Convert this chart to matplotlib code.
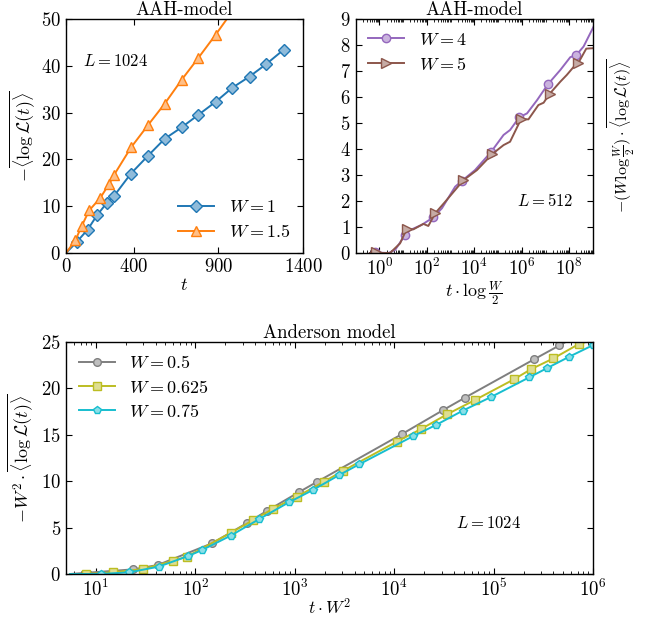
import numpy as np
import matplotlib
matplotlib.use("Agg")
import matplotlib.pyplot as plt
from matplotlib.colors import to_rgb
from matplotlib.ticker import LogLocator, NullFormatter, FixedLocator

plt.rcParams['font.family'] = ['cmr10', 'DejaVu Serif']
plt.rcParams['mathtext.fontset'] = 'cm'
plt.rcParams['axes.formatter.use_mathtext'] = True
plt.rcParams['axes.unicode_minus'] = False
for a in ('x', 'y'):
    plt.rcParams[a + 'tick.direction'] = 'in'
    plt.rcParams[a + 'tick.major.size'] = 4.5
    plt.rcParams[a + 'tick.minor.size'] = 2.2
    plt.rcParams[a + 'tick.labelsize'] = 13.5
plt.rcParams['xtick.top'] = True
plt.rcParams['ytick.right'] = True

# ---------------- data: top-left (AAH, L=1024) ----------------
t_w1 = [0, 63, 128, 183, 241, 285, 383, 485, 583, 683, 781, 884, 982, 1084, 1184, 1286]
y_w1 = [0, 2.35, 5.0, 8.05, 10.7, 12.25, 16.95, 20.8, 24.4, 26.85, 29.5, 32.3, 35.3, 37.7, 40.4, 43.45]
t_w15 = [0, 55, 94, 137, 202, 255, 285, 385, 485, 583, 683, 781, 884, 982]
y_w15 = [0, 2.7, 5.85, 9.1, 11.75, 14.75, 16.75, 22.6, 27.35, 31.9, 37.0, 41.65, 46.65, 51.6]

# ---------------- data: top-right (AAH, L=512) ----------------
x_w4 = [0.40, 0.65, 2.4, 4.6, 8.7, 12, 19.5, 60, 186, 430, 1550, 2950, 1.07e4, 5.0e4,
        1.7e5, 3.2e5, 7.8e5, 1.66e6, 4.4e6, 1.26e7, 4.2e7, 1.1e8, 2.0e8, 4.0e8, 1.12e9]
y_w4 = [0.0, 0.02, 0.0, 0.12, 0.5, 0.69, 0.88, 1.08, 1.37, 1.72, 2.55, 2.77, 3.19, 3.88,
        4.54, 4.73, 5.22, 5.37, 5.88, 6.49, 7.04, 7.53, 7.62, 7.94, 8.75]
mk_w4 = [1, 5, 8, 11, 13, 16, 19, 22]
x_w5 = [0.40, 0.72, 1.3, 2.8, 7.4, 14, 27, 71, 115, 224, 590, 3470, 1.29e4, 5.75e4,
        1.7e5, 3.2e5, 9.3e5, 1.9e6, 5.0e6, 8.3e6, 1.48e7, 4.2e7, 7.9e7, 1.78e8, 2.34e8, 5.2e8, 1.12e9]
y_w5 = [0.0, 0.03, 0.0, 0.0, 0.37, 0.92, 0.91, 1.12, 1.04, 1.53, 1.97, 2.80, 3.19, 3.81,
        4.15, 4.28, 5.15, 5.14, 5.69, 5.78, 6.12, 6.59, 6.85, 7.23, 7.29, 7.86, 7.88]
mk_w5 = [1, 5, 9, 11, 13, 16, 20, 24]

# ---------------- data: bottom (Anderson, L=1024) ----------------
x_a05 = [5.5, 23.8, 41.9, 147, 333, 522, 1110, 1690, 11900, 31200, 51600, 2.55e5, 4.59e5, 7.4e5]
y_a05 = [0.0, 0.5, 0.97, 3.3, 5.5, 6.78, 8.83, 9.94, 15.04, 17.65, 18.98, 23.1, 24.6, 25.8]
x_a0625 = [5.5, 7.9, 15, 30, 59, 82, 229, 378, 600, 1050, 1970, 3080, 10600, 18500, 33800,
           65100, 1.61e5, 2.37e5, 3.99e5, 7.24e5, 1.1e6]
y_a0625 = [0.0, 0.0, 0.18, 0.54, 1.4, 1.86, 4.45, 5.78, 7.0, 8.32, 9.94, 11.12, 14.24, 15.58,
           17.17, 18.73, 20.96, 22.03, 23.2, 24.76, 25.3]
x_a075 = [5.5, 11.2, 21.7, 42.8, 85, 117, 227, 440, 875, 1520, 2810, 4460, 15600, 26500,
          49000, 94400, 2.29e5, 3.43e5, 5.78e5, 9.96e5]
y_a075 = [0.0, 0.0, 0.18, 0.79, 1.94, 2.58, 4.13, 5.92, 7.72, 9.04, 10.66, 11.81, 14.85, 16.05,
          17.58, 19.05, 21.17, 22.14, 23.39, 24.62]


def light(c, a=0.5):
    r = np.array(to_rgb(c))
    return tuple(1 - a + a * r)


fig = plt.figure(figsize=(6.52, 6.18), dpi=100)
W, H = 652.0, 618.0
ax1 = fig.add_axes([66 / W, 1 - 253 / H, 237 / W, 234 / H])
ax2 = fig.add_axes([355.7 / W, 1 - 253 / H, 237.3 / W, 234 / H])
ax3 = fig.add_axes([66 / W, 1 - 574 / H, 527 / W, 232.3 / H])

lw = 1.4
FS_T, FS_L, FS_LEG, FS_TX = 13.5, 13, 13, 12
# ---- top-left ----
c1, c2 = '#1f77b4', '#ff7f0e'
ax1.plot(t_w1, y_w1, '-', color=c1, lw=lw, marker='D', ms=6.5, mfc=light(c1), mec=c1, mew=1,
         markevery=list(range(1, len(t_w1))), label=r'$W=1$')
ax1.plot(t_w15, y_w15, '-', color=c2, lw=lw, marker='^', ms=7, mfc=light(c2), mec=c2, mew=1,
         markevery=list(range(1, len(t_w15))), label=r'$W=1.5$')
ax1.set_xlim(0, 1400)
ax1.set_ylim(0, 50)
ax1.set_xticks([0, 400, 900, 1400])
ax1.set_yticks([0, 10, 20, 30, 40, 50])
ax1.set_title('AAH-model', fontsize=FS_T, pad=2)
ax1.set_xlabel(r'$t$', fontsize=FS_L, labelpad=1)
ax1.set_ylabel(r'$-\overline{\langle\log\mathcal{L}(t)\rangle}$', fontsize=FS_L, labelpad=2)
ax1.text(0.07, 0.8, r'$L=1024$', transform=ax1.transAxes, fontsize=FS_TX)
ax1.legend(loc='lower right', frameon=False, fontsize=FS_LEG, numpoints=1, handlelength=2.0,
           labelspacing=0.45, borderaxespad=0.3)

# ---- top-right ----
c4, c5 = '#9467bd', '#8c564b'
ax2.plot(x_w4, y_w4, '-', color=c4, lw=lw, marker='o', ms=6, mfc=light(c4), mec=c4, mew=1,
         markevery=mk_w4, label=r'$W=4$')
ax2.plot(x_w5, y_w5, '-', color=c5, lw=lw, marker='>', ms=7, mfc=light(c5), mec=c5, mew=1,
         markevery=mk_w5, label=r'$W=5$')
ax2.set_xscale('log')
ax2.set_xlim(0.1, 1e9)
ax2.set_ylim(0, 9)
ax2.xaxis.set_major_locator(FixedLocator([1, 1e2, 1e4, 1e6, 1e8]))
ax2.xaxis.set_minor_locator(LogLocator(base=10, subs=np.arange(1, 10), numticks=30))
ax2.xaxis.set_minor_formatter(NullFormatter())
ax2.set_yticks(range(10))
ax2.set_title('AAH-model', fontsize=FS_T, pad=2)
ax2.set_xlabel(r'$t\cdot\log\frac{W}{2}$', fontsize=FS_L, labelpad=0)
ax2.yaxis.set_label_position('right')
ax2.set_ylabel(r'$-(W\log\frac{W}{2})\cdot\overline{\langle\log\mathcal{L}(t)\rangle}$',
               fontsize=11.5, labelpad=9)
ax2.text(0.68, 0.2, r'$L=512$', transform=ax2.transAxes, fontsize=FS_TX)
ax2.legend(loc='upper left', frameon=False, fontsize=FS_LEG, numpoints=1, handlelength=2.0,
           labelspacing=0.45, borderaxespad=0.3)

# ---- bottom ----
cg, cy, cc = '#7f7f7f', '#bcbd22', '#17becf'
ax3.plot(x_a05, y_a05, '-', color=cg, lw=lw, marker='o', ms=5.5, mfc=light(cg), mec=cg, mew=1,
         markevery=list(range(1, len(x_a05) - 1)), label=r'$W=0.5$')
ax3.plot(x_a0625, y_a0625, '-', color=cy, lw=lw, marker='s', ms=6, mfc=light(cy), mec=cy, mew=1,
         markevery=list(range(1, len(x_a0625) - 1)), label=r'$W=0.625$')
ax3.plot(x_a075, y_a075, '-', color=cc, lw=lw, marker='p', ms=6, mfc=light(cc), mec=cc, mew=1,
         markevery=list(range(1, len(x_a075))), label=r'$W=0.75$')
ax3.set_xscale('log')
ax3.set_xlim(5, 1e6)
ax3.set_ylim(0, 25)
ax3.set_yticks([0, 5, 10, 15, 20, 25])
ax3.xaxis.set_minor_formatter(NullFormatter())
ax3.set_title('Anderson model', fontsize=FS_T, pad=2)
ax3.set_xlabel(r'$t\cdot W^2$', fontsize=12.5, labelpad=-2)
ax3.set_ylabel(r'$-W^2\cdot\overline{\langle\log\mathcal{L}(t)\rangle}$', fontsize=FS_L, labelpad=4)
ax3.text(0.74, 0.2, r'$L=1024$', transform=ax3.transAxes, fontsize=FS_TX)
ax3.legend(loc='upper left', frameon=False, fontsize=FS_LEG, numpoints=1, handlelength=2.0,
           labelspacing=0.4, borderaxespad=0.3)

for ax in (ax1, ax2, ax3):
    for s in ax.spines.values():
        s.set_linewidth(1.0)
    ax.tick_params(which='both', direction='in', top=True, right=True)

fig.savefig('out.png', dpi=100)
